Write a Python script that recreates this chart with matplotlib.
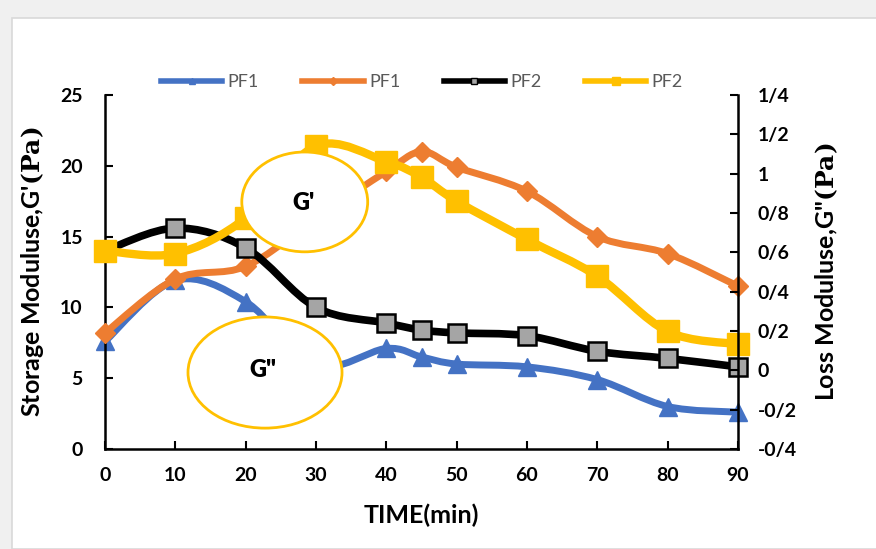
import matplotlib
matplotlib.use("Agg")
import matplotlib.pyplot as plt
from matplotlib.path import Path
from matplotlib.patches import PathPatch, Ellipse, Rectangle
from matplotlib.lines import Line2D
import numpy as np

plt.rcParams['font.family'] = ['Lato', 'DejaVu Sans']
plt.rcParams['mathtext.fontset'] = 'dejavuserif'

# time points (min)
time = [0, 10, 20, 30, 40, 45, 50, 60, 70, 80, 90]

pf1_blue = [7.6, 11.9, 10.4, 5.9, 7.1, 6.5, 6.0, 5.8, 4.9, 3.0, 2.6]
pf1_orange = [8.2, 12.0, 12.9, 16.3, 19.6, 21.0, 19.9, 18.2, 15.0, 13.8, 11.5]
pf2_black = [14.0, 15.6, 14.2, 10.0, 8.9, 8.4, 8.2, 8.0, 6.9, 6.4, 5.8]
pf2_yellow = [14.0, 13.8, 16.3, 21.4, 20.3, 19.2, 17.5, 14.8, 12.2, 8.3, 7.4]

left_ticks = [0, 5, 10, 15, 20, 25]
right_ticks = [-0.4, -0.2, 0, 0.2, 0.4, 0.6, 0.8, 1.0, 1.2, 1.4]
right_labels = ['-0/4', '-0/2', '0', '0/2', '0/4', '0/6', '0/8', '1', '1/2', '1/4']
x_ticks = [0, 10, 20, 30, 40, 50, 60, 70, 80, 90]


def smooth_path(xs, ys, k=1/6):
    """Excel-like smoothed line as cubic bezier segments through the points."""
    pts = np.column_stack([xs, ys]).astype(float)
    n = len(pts)
    verts = [pts[0]]
    codes = [Path.MOVETO]
    for i in range(n - 1):
        p0 = pts[i - 1] if i > 0 else pts[i]
        p1 = pts[i]
        p2 = pts[i + 1]
        p3 = pts[i + 2] if i + 2 < n else pts[i + 1]
        c1 = p1 + (p2 - p0) * k
        c2 = p2 - (p3 - p1) * k
        verts += [c1, c2, p2]
        codes += [Path.CURVE4] * 3
    return Path(verts, codes)


fig = plt.figure(figsize=(8.76, 5.49), dpi=100)

# light grey frame around the chart area, like the screenshot
fig.patches.append(Rectangle((0, 0), 1, 1, transform=fig.transFigure,
                             facecolor='#f0f0f0', edgecolor='none', zorder=-3))
fig.patches.append(Rectangle((12 / 876, 0), 1, 1 - 18 / 549, transform=fig.transFigure,
                             facecolor='white', edgecolor='#d9d9d9', linewidth=1.2, zorder=-2))

ax = fig.add_axes([105 / 876, 1 - 449 / 549, (738 - 105) / 876, (449 - 95) / 549])
ax.set_facecolor('none')

series = [
    (pf1_blue, '#4472c4', '^', 13, '#4472c4', '#4472c4', 5.0),
    (pf1_orange, '#ed7d31', 'D', 10, '#ed7d31', '#ed7d31', 5.0),
    (pf2_black, '#000000', 's', 13, '#a5a5a5', '#000000', 5.5),
    (pf2_yellow, '#ffc000', 's', 16, '#ffc000', '#ffc000', 6.0),
]
for z, (vals, col, mk, ms, mfc, mec, lw) in enumerate(series):
    patch = PathPatch(smooth_path(time, vals), facecolor='none', edgecolor=col,
                      linewidth=lw, capstyle='round', joinstyle='round', zorder=2 + z)
    ax.add_patch(patch)
    ax.plot(time, vals, linestyle='none', marker=mk, markersize=ms,
            markerfacecolor=mfc, markeredgecolor=mec, markeredgewidth=1.8 if mec == '#000000' else 1,
            zorder=2.5 + z, clip_on=False)

ax.set_xlim(0, 90)
ax.set_ylim(0, 25)
ax.set_xticks(x_ticks)
ax.set_yticks(left_ticks)
ax.tick_params(direction='in', length=6, width=1.5, labelsize=14)
ax.tick_params(axis='x', pad=13)
ax.tick_params(axis='y', pad=16)
for lab in ax.get_xticklabels() + ax.get_yticklabels():
    lab.set_fontweight('bold')
for s in ['left', 'bottom']:
    ax.spines[s].set_linewidth(1.8)
ax.spines['top'].set_visible(False)
ax.spines['right'].set_visible(False)

ax2 = ax.twinx()
ax2.set_ylim(-0.4, 1.4)
ax2.set_yticks(right_ticks)
ax2.set_yticklabels(right_labels, fontweight='bold')
ax2.tick_params(direction='in', length=6, width=1.5, labelsize=14, pad=14)
ax2.spines['right'].set_linewidth(1.8)
for s in ['top', 'left', 'bottom']:
    ax2.spines[s].set_visible(False)
ax2.set_ylabel(r'Loss Moduluse,G"$\mathbf{(Pa)}$', fontsize=18, fontweight='bold', labelpad=12)

ax.set_xlabel('TIME(min)', fontsize=18, fontweight='bold', labelpad=14)
ax.set_ylabel(r"Storage Moduluse,G'$\mathbf{(Pa)}$", fontsize=18, fontweight='bold', labelpad=10)

# annotation ellipses
ax.add_patch(Ellipse((28.4, 17.45), 17.9, 7.05, facecolor='white', edgecolor='#ffc000',
                     linewidth=2, zorder=10))
ax.text(28.2, 17.4, "G'", fontsize=17, fontweight='heavy', ha='center', va='center', zorder=11)
ax.add_patch(Ellipse((22.75, 5.4), 21.9, 7.85, facecolor='white', edgecolor='#ffc000',
                     linewidth=2, zorder=10))
ax.text(22.5, 5.6, 'G"', fontsize=17, fontweight='heavy', ha='center', va='center', zorder=11)

handles = [
    Line2D([], [], color='#4472c4', lw=4, marker='^', ms=5),
    Line2D([], [], color='#ed7d31', lw=4, marker='D', ms=4),
    Line2D([], [], color='#000000', lw=4, marker='s', ms=5, mfc='#a5a5a5', mec='#000000'),
    Line2D([], [], color='#ffc000', lw=4, marker='s', ms=6),
]
leg = fig.legend(handles, ['PF1', 'PF1', 'PF2', 'PF2'], loc='center',
                 bbox_to_anchor=(422 / 876, 1 - 82 / 549), ncol=4, frameon=False,
                 fontsize=13, handlelength=3.4, handletextpad=0.3, columnspacing=2.4)
for t in leg.get_texts():
    t.set_color('#595959')

fig.savefig('out.png', dpi=100, facecolor='white')
